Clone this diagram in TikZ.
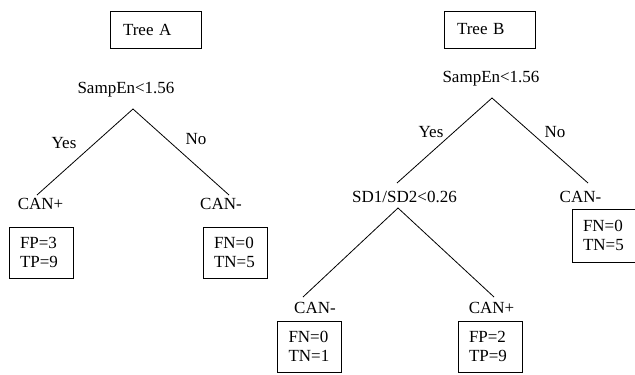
\documentclass[tikz,border=0pt]{standalone}
\usepackage{fontspec}
\setmainfont{Liberation Serif}
\begin{document}
\begin{tikzpicture}[x=1pt,y=-1pt,
  every node/.style={font=\fontsize{17}{19}\selectfont, inner sep=0pt},
  titlebox/.style={draw, line width=0.8pt, minimum height=37pt, inner xsep=13pt, text width=65pt, align=left},
  databox/.style={draw, line width=0.8pt, inner xsep=11pt, text width=42pt, align=left},
  branch/.style={line width=0.8pt}]
\useasboundingbox (0,0) rectangle (635,375);
\begin{scope}
\clip (0,0) rectangle (635,375);
% Tree A
\node[titlebox] (ta) at (155.5,29.5) {Tree A};
\node (sa) at (126,90) {SampEn<1.56};
\coordinate (sap) at (133,109);
\coordinate (sal) at (37,195);
\coordinate (sar) at (229,195);
\draw[branch] (sal) -- (sap) -- (sar);
\node (ya) at (64,143) {Yes};
\node (na) at (196,139) {No};
\node (cpa) at (40.5,204) {CAN+};
\node (cma) at (221,204) {CAN-};
\node[databox, minimum height=51pt] (bfa) at (41,252.5) {FP=3\\TP=9};
\node[databox, minimum height=51pt] (bna) at (235,252.5) {FN=0\\TN=5};
% Tree B
\node[titlebox] (tb) at (489.5,29.5) {Tree B};
\node (sb) at (491,79) {SampEn<1.56};
\coordinate (sbp) at (492,98);
\coordinate (sbl) at (397,183);
\coordinate (sbr) at (588,183);
\draw[branch] (sbl) -- (sbp) -- (sbr);
\node (yb) at (431,132) {Yes};
\node (nb) at (555,132) {No};
\node (sd) at (404.5,197) {SD1/SD2<0.26};
\coordinate (sdp) at (398,208);
\coordinate (sdl) at (303,297);
\coordinate (sdr) at (494,297);
\draw[branch] (sdl) -- (sdp) -- (sdr);
\node (cmb) at (580.5,197) {CAN-};
\node[databox, minimum height=53pt, text width=50pt] (bnb) at (608,235.5) {FN=0\\TN=5};
\node (cmc) at (315,308) {CAN-};
\node (cpc) at (491.5,308) {CAN+};
\node[databox, minimum height=51pt] (bnc) at (309.5,346.5) {FN=0\\TN=1};
\node[databox, minimum height=51pt] (bpc) at (490,346.5) {FP=2\\TP=9};
\end{scope}
\end{tikzpicture}
\end{document}
